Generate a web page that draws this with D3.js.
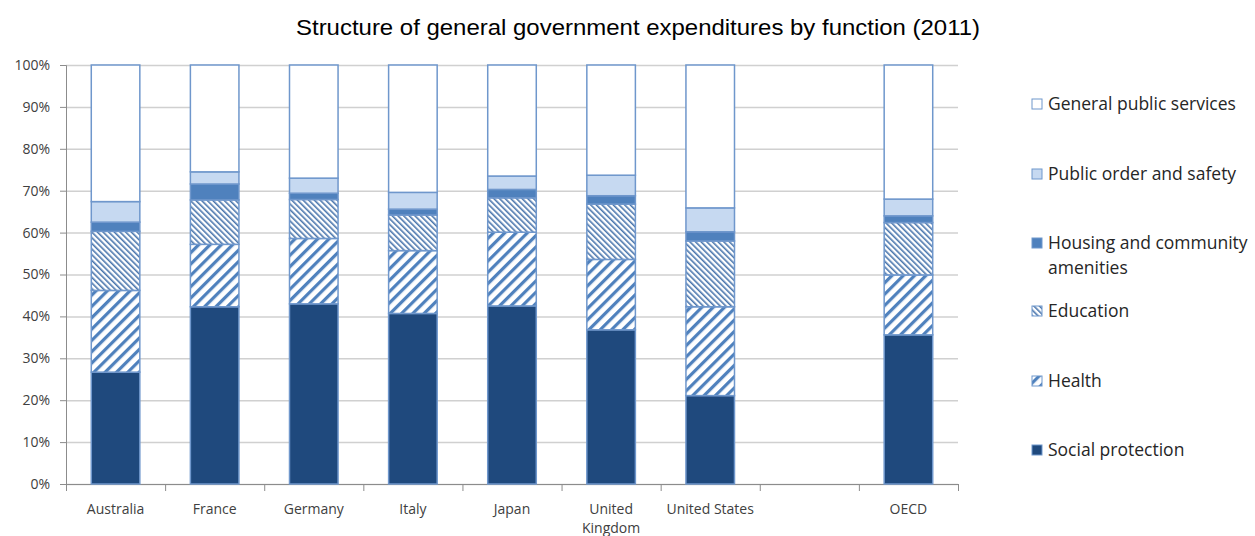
<!DOCTYPE html>
<html>
<head>
<meta charset="utf-8">
<script src="https://cdn.jsdelivr.net/npm/d3@7"></script>
<style>
  body { margin: 0; background: #fff; }
  svg { display: block; }
  .tick text { font-family: "Open Sans", sans-serif; font-size: 14px; fill: #404040; }
</style>
</head>
<body>
<svg id="chart" width="1255" height="536"></svg>
<script>
// categories (blank slot between United States and OECD)
const countries = ["Australia", "France", "Germany", "Italy", "Japan", "United Kingdom", "United States", "", "OECD"];

// shares of total expenditure, %
const socialProtection = [26.7, 42.3, 43.0, 40.7, 42.5, 36.8, 21.1, 0, 35.6];
const health           = [19.5, 14.9, 15.6, 15.0, 17.6, 16.8, 21.2, 0, 14.3];
const education        = [14.1, 10.6,  9.3,  8.5,  8.2, 13.2, 15.7, 0, 12.5];
const housing          = [ 2.2,  3.8,  1.5,  1.4,  2.0,  2.0,  2.2, 0,  1.6];
const publicOrder      = [ 4.9,  2.9,  3.6,  4.0,  3.2,  4.9,  5.7, 0,  4.0];
const generalServices  = [32.6, 25.5, 27.0, 30.4, 26.5, 26.3, 34.1, 0, 32.0];

const seriesNames = ["Social protection", "Health", "Education",
                     "Housing and community amenities", "Public order and safety", "General public services"];
const yTicks = [0, 10, 20, 30, 40, 50, 60, 70, 80, 90, 100];

let table = countries.map((c, i) => ({
    country: c,
    "Social protection": socialProtection[i],
    "Health": health[i],
    "Education": education[i],
    "Housing and community amenities": housing[i],
    "Public order and safety": publicOrder[i],
    "General public services": generalServices[i]
}));

const svg = d3.select("#chart");
const plotLeft = 66, plotRight = 958, plotTop = 65, plotBottom = 484;

// patterns for the hatched series
const defs = svg.append("defs");
let hp = defs.append("pattern").attr("id", "healthPat")
    .attr("patternUnits", "userSpaceOnUse").attr("width", 8).attr("height", 8)
    .attr("patternTransform", "rotate(45)");
hp.append("rect").attr("width", 8).attr("height", 8).attr("fill", "#fff");
hp.append("rect").attr("x", 0).attr("width", 3.2).attr("height", 8).attr("fill", "#4f81bd");

let ep = defs.append("pattern").attr("id", "eduPat")
    .attr("patternUnits", "userSpaceOnUse").attr("width", 4).attr("height", 4)
    .attr("patternTransform", "rotate(-45)");
ep.append("rect").attr("width", 4).attr("height", 4).attr("fill", "#fff");
ep.append("rect").attr("x", 0).attr("width", 1.6).attr("height", 4).attr("fill", "#4a76ad");

const fills = {
    "Social protection": "#1f497d",
    "Health": "url(#healthPat)",
    "Education": "url(#eduPat)",
    "Housing and community amenities": "#4f81bd",
    "Public order and safety": "#c6d9f1",
    "General public services": "#ffffff"
};

const x = d3.scaleBand().domain(countries.map((c, i) => i)).range([plotLeft, plotRight]).paddingInner(0.5).paddingOuter(0.25);
const y = d3.scaleLinear().domain([0, 100]).range([plotBottom, plotTop]);

// gridlines
svg.append("g").selectAll("line").data(yTicks).enter().append("line")
    .attr("x1", plotLeft).attr("x2", plotRight)
    .attr("y1", d => y(d) + 0.5).attr("y2", d => y(d) + 0.5)
    .attr("stroke", "#d0d0d0").attr("stroke-width", 1.5);

// y axis
let yAxis = svg.append("g").attr("transform", `translate(${plotLeft},0)`)
    .call(d3.axisLeft(y).tickValues(yTicks).tickFormat(d => d + "%").tickSize(6).tickPadding(10));
yAxis.selectAll("line").attr("stroke", "#8c8c8c");
yAxis.select(".domain").attr("stroke", "#8c8c8c");

// x axis, ticks at band boundaries
const step = x.step();
const bounds = d3.range(countries.length + 1).map(i => plotLeft + i * step);
svg.append("line").attr("x1", plotLeft).attr("x2", plotRight).attr("y1", plotBottom + 0.5).attr("y2", plotBottom + 0.5)
    .attr("stroke", "#8c8c8c");
svg.append("g").selectAll("line").data(bounds).enter().append("line")
    .attr("x1", d => d + 0.5).attr("x2", d => d + 0.5)
    .attr("y1", plotBottom).attr("y2", plotBottom + 7).attr("stroke", "#8c8c8c");

// x labels
let xl = svg.append("g").selectAll("text").data(countries).enter().append("text")
    .attr("x", (d, i) => x(i) + x.bandwidth() / 2).attr("y", plotBottom + 30)
    .attr("text-anchor", "middle")
    .style("font-family", "'Open Sans', sans-serif").style("font-size", "14px").attr("fill", "#404040");
xl.each(function(d) {
    if (d == "United Kingdom") {
        d3.select(this).append("tspan").attr("x", d3.select(this).attr("x")).text("United");
        d3.select(this).append("tspan").attr("x", d3.select(this).attr("x")).attr("dy", 19).text("Kingdom");
    } else {
        d3.select(this).text(d);
    }
});

// bars
const stack = d3.stack().keys(seriesNames);
const layers = stack(table);
svg.append("g").selectAll("g").data(layers).enter().append("g")
    .attr("fill", d => fills[d.key])
    .selectAll("rect").data(d => d.filter(p => p[1] > p[0])).enter().append("rect")
    .attr("x", d => x(countries.indexOf(d.data.country)) + 0.5)
    .attr("y", d => y(d[1]))
    .attr("width", x.bandwidth() - 1)
    .attr("height", d => y(d[0]) - y(d[1]))
    .attr("stroke", "#6f97cc").attr("stroke-width", 1.5);

// title
svg.append("text").attr("x", 638).attr("y", 35).attr("text-anchor", "middle")
    .attr("textLength", 684).attr("lengthAdjust", "spacingAndGlyphs")
    .style("font-family", "'Liberation Sans', Arial, sans-serif").style("font-size", "22px")
    .attr("fill", "#000").text("Structure of general government expenditures by function (2011)");

// legend (top to bottom reversed order)
const legendY = [104, 174, 243, 311, 381, 450];
const legendItems = seriesNames.slice().reverse();
let lg = svg.append("g").selectAll("g").data(legendItems).enter().append("g")
    .attr("transform", (d, i) => `translate(1032,${legendY[i]})`);
lg.append("rect").attr("x", 0).attr("y", -5).attr("width", 10).attr("height", 10)
    .attr("fill", d => fills[d]).attr("stroke", "#6f97cc").attr("stroke-width", 1);
lg.append("text").attr("x", 16).attr("y", 6)
    .style("font-family", "'Open Sans', sans-serif").style("font-size", "17.5px").attr("fill", "#262626")
    .each(function(d) {
        if (d == "Housing and community amenities") {
            d3.select(this).append("tspan").attr("x", 16).text("Housing and community");
            d3.select(this).append("tspan").attr("x", 16).attr("dy", 25).text("amenities");
        } else {
            d3.select(this).text(d);
        }
    });
</script>
</body>
</html>
